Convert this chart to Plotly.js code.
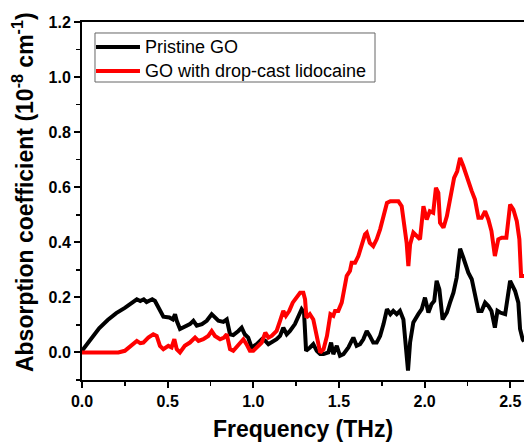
<!DOCTYPE html>
<html>
<head>
<meta charset="utf-8">
<script src="https://cdn.plot.ly/plotly-3.0.1.min.js"></script>
<style>html,body{margin:0;padding:0;background:#fff;}#chart{width:524px;height:446px;}</style>
</head>
<body>
<div id="chart"></div>
<script>
const seriesNames = ["Pristine GO", "GO with drop-cast lidocaine"];
const seriesColors = ["#000000", "#ff0000"];

const freqPristine = [0,0.05,0.1,0.15,0.2,0.25,0.28,0.32,0.34,0.36,0.377,0.41,0.426,0.455,0.475,0.51,0.53,0.543,0.553,0.572,0.6,0.63,0.65,0.67,0.70,0.728,0.757,0.776,0.796,0.825,0.845,0.864,0.883,0.913,0.932,0.95,0.97,0.99,1.02,1.05,1.07,1.088,1.107,1.136,1.156,1.175,1.195,1.214,1.243,1.273,1.282,1.296,1.308,1.331,1.35,1.37,1.39,1.41,1.438,1.454,1.467,1.487,1.506,1.526,1.555,1.574,1.584,1.603,1.623,1.642,1.662,1.68,1.70,1.72,1.74,1.76,1.78,1.80,1.817,1.837,1.856,1.876,1.89,1.903,1.915,1.934,1.963,1.983,2.002,2.022,2.04,2.056,2.07,2.086,2.105,2.13,2.148,2.168,2.187,2.207,2.226,2.255,2.275,2.294,2.314,2.333,2.353,2.372,2.39,2.41,2.425,2.44,2.47,2.499,2.528,2.547,2.557,2.572,2.58];
const absPristine = [0.006,0.05,0.088,0.118,0.143,0.162,0.175,0.193,0.187,0.193,0.183,0.193,0.187,0.157,0.13,0.127,0.12,0.139,0.115,0.085,0.094,0.103,0.115,0.097,0.103,0.115,0.139,0.127,0.115,0.111,0.12,0.066,0.063,0.078,0.09,0.066,0.054,0.018,0.03,0.048,0.042,0.03,0.036,0.048,0.06,0.09,0.066,0.078,0.103,0.139,0.157,0.145,0.006,0.018,0.03,0.006,-0.006,-0.006,0,0.036,-0.006,0.024,-0.012,-0.006,0.018,0.042,0.054,0.024,0.03,0.048,0.078,0.06,0.036,0.036,0.06,0.103,0.157,0.139,0.151,0.139,0.151,0.12,0.024,-0.066,0.036,0.109,0.139,0.157,0.199,0.145,0.175,0.187,0.26,0.229,0.12,0.145,0.181,0.217,0.272,0.377,0.344,0.29,0.266,0.211,0.151,0.151,0.181,0.169,0.151,0.09,0.151,0.145,0.139,0.26,0.223,0.181,0.085,0.048,0.04];

const freqLido = [0,0.1,0.212,0.25,0.29,0.32,0.34,0.358,0.387,0.416,0.436,0.455,0.475,0.504,0.523,0.539,0.553,0.572,0.6,0.63,0.66,0.68,0.708,0.737,0.757,0.776,0.806,0.829,0.845,0.864,0.883,0.913,0.942,0.96,0.98,1.0,1.03,1.049,1.07,1.088,1.107,1.136,1.156,1.175,1.19,1.21,1.23,1.253,1.273,1.292,1.302,1.31,1.33,1.35,1.36,1.37,1.39,1.41,1.43,1.45,1.467,1.477,1.496,1.516,1.545,1.564,1.574,1.594,1.613,1.633,1.652,1.662,1.68,1.70,1.72,1.74,1.76,1.78,1.80,1.817,1.847,1.866,1.88,1.895,1.905,1.915,1.934,1.954,1.973,1.993,2.012,2.03,2.05,2.066,2.08,2.09,2.11,2.13,2.158,2.172,2.19,2.207,2.226,2.255,2.275,2.294,2.314,2.333,2.353,2.372,2.39,2.41,2.43,2.45,2.477,2.499,2.518,2.538,2.553,2.563,2.58];
const absLido = [0,0,0,0.006,0.024,0.042,0.034,0.036,0.054,0.066,0.06,0.024,0.012,0.024,0.018,0.048,0.012,0,0.024,0.036,0.054,0.042,0.048,0.06,0.078,0.06,0.048,0.054,0.066,0.012,0.006,0.03,0.048,0.03,0.006,0.006,0.024,0.036,0.072,0.054,0.06,0.078,0.115,0.151,0.133,0.151,0.181,0.199,0.217,0.217,0.193,0.127,0.139,0.12,0.097,0.06,0,0.012,0.06,0.139,0.133,0.151,0.151,0.181,0.278,0.296,0.326,0.326,0.35,0.392,0.429,0.435,0.398,0.386,0.411,0.447,0.495,0.543,0.549,0.549,0.549,0.531,0.477,0.398,0.314,0.392,0.435,0.423,0.411,0.531,0.483,0.513,0.507,0.598,0.58,0.471,0.453,0.495,0.58,0.634,0.658,0.706,0.676,0.616,0.586,0.555,0.489,0.489,0.513,0.483,0.441,0.35,0.411,0.417,0.417,0.537,0.519,0.477,0.411,0.278,0.278];

const xTickVals = [0, 0.5, 1.0, 1.5, 2.0, 2.5];
const xTickText = ["0.0", "0.5", "1.0", "1.5", "2.0", "2.5"];
const yTickVals = [0, 0.2, 0.4, 0.6, 0.8, 1.0, 1.2];
const yTickText = ["0.0", "0.2", "0.4", "0.6", "0.8", "1.0", "1.2"];
const xTitle = "Frequency (THz)";
const yTitle = "Absorption coefficient (10<sup>-8</sup> cm<sup>-1</sup>)";

const FONT = "Arial, Liberation Sans, sans-serif";

const traces = [
  {x: freqPristine, y: absPristine, name: seriesNames[0], type: "scatter", mode: "lines",
   line: {color: seriesColors[0], width: 4}, showlegend: false},
  {x: freqLido, y: absLido, name: seriesNames[1], type: "scatter", mode: "lines",
   line: {color: seriesColors[1], width: 4}, showlegend: false}
];

// Legend drawn as a framed box (paper coordinates)
const legBox = {x0: 0.0294, x1: 0.6629, y0: 0.8324, y1: 0.9693};
const legRowsY = [0.9302, 0.8631];
const legLineX = [0.0317, 0.1312];
const legTextX = 0.1380;

const shapes = [
  {type: "rect", xref: "paper", yref: "paper", x0: legBox.x0, x1: legBox.x1, y0: legBox.y0, y1: legBox.y1,
   line: {color: "#666", width: 1}, fillcolor: "#fff", layer: "above"}
];
const annotations = [];
seriesNames.forEach((n, i) => {
  shapes.push({type: "line", xref: "paper", yref: "paper", x0: legLineX[0], x1: legLineX[1],
    y0: legRowsY[i], y1: legRowsY[i], line: {color: seriesColors[i], width: 4}, layer: "above"});
  annotations.push({xref: "paper", yref: "paper", x: legTextX, y: legRowsY[i], xanchor: "left", yanchor: "middle",
    text: n, showarrow: false, font: {family: FONT, size: 18, color: "#000"}});
});
// y-axis title (rotated), placed slightly above the plot-area centre like the reference
annotations.push({xref: "paper", yref: "paper", x: 0, xshift: -59, y: 0.525, xanchor: "center", yanchor: "middle",
  textangle: -90, text: yTitle, showarrow: false,
  font: {family: FONT, size: 23, color: "#000", weight: "bold"}});

const axisCommon = {
  showline: true, linecolor: "#000", linewidth: 2, mirror: true,
  ticks: "outside", ticklen: 6, tickwidth: 2, tickcolor: "#000",
  showgrid: false, zeroline: false,
  tickfont: {family: FONT, size: 16, color: "#000", weight: "bold"}
};

const layout = {
  width: 524, height: 446,
  margin: {l: 82, r: 0, t: 22, b: 66},
  paper_bgcolor: "#fff", plot_bgcolor: "#fff",
  showlegend: false,
  shapes: shapes,
  annotations: annotations,
  xaxis: Object.assign({}, axisCommon, {
    range: [0, 2.58], tickvals: xTickVals, ticktext: xTickText,
    minor: {dtick: 0.25, ticks: "outside", ticklen: 4, tickwidth: 1.5, tickcolor: "#000", showgrid: false},
    title: {text: xTitle, standoff: 12,
      font: {family: FONT, size: 23, color: "#000", weight: "bold"}}
  }),
  yaxis: Object.assign({}, axisCommon, {
    range: [-0.1, 1.2], tickvals: yTickVals, ticktext: yTickText,
    minor: {dtick: 0.1, ticks: "outside", ticklen: 4, tickwidth: 1.5, tickcolor: "#000", showgrid: false}
  })
};

Plotly.newPlot("chart", traces, layout, {displayModeBar: false, staticPlot: true});
</script>
</body>
</html>
